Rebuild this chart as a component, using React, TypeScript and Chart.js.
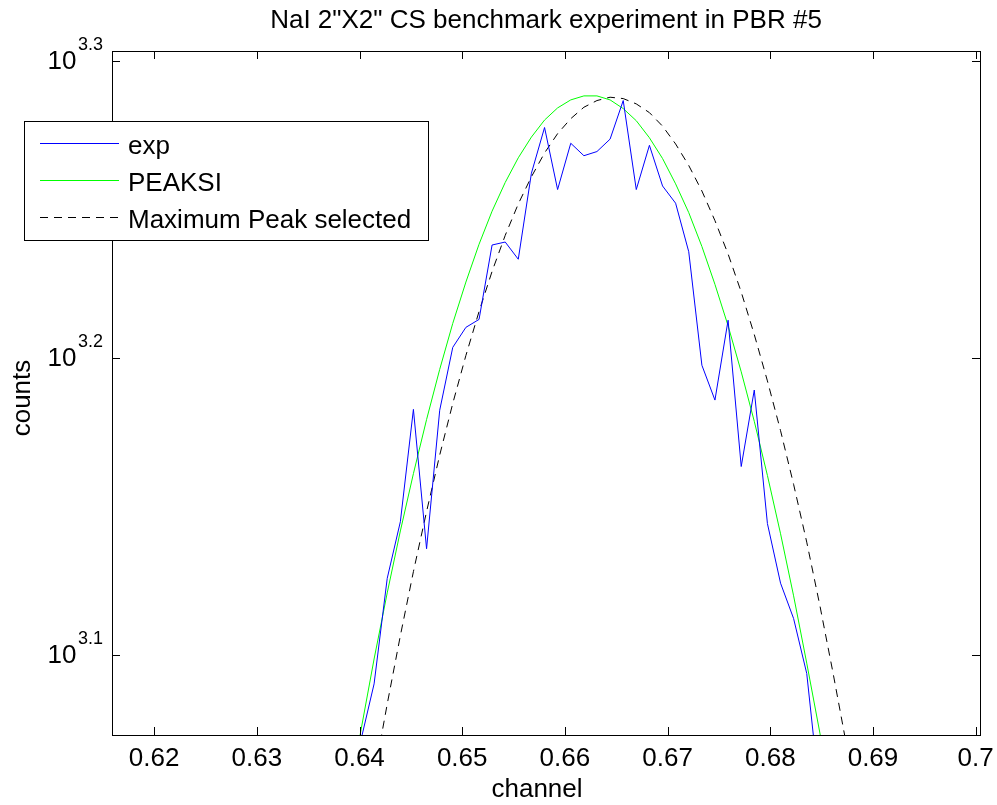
import React, { useEffect, useRef } from 'react';
import { Chart, registerables } from 'chart.js';

Chart.register(...registerables);

// ---------- data ----------
const channel = [
  0.63887, 0.64015, 0.64142, 0.6427, 0.64398, 0.64525, 0.64653, 0.64781, 0.64908, 0.65036,
  0.65164, 0.65291, 0.65419, 0.65546, 0.65674, 0.65802, 0.65929, 0.66057, 0.66185, 0.66312,
  0.6644, 0.66568, 0.66695, 0.66823, 0.66951, 0.67078, 0.67206, 0.67334, 0.67461, 0.67589,
  0.67717, 0.67844, 0.67972, 0.681, 0.68227, 0.68355, 0.68483, 0.6861, 0.68738,
];

const expCounts = [
  null, 1179, 1231, 1336, 1396, 1523, 1367, 1522, 1598, 1623,
  1633, 1730, 1734, 1711, 1829, 1895, 1806, 1872, 1854, 1860,
  1878, 1935, 1806, 1869, 1811, 1787, 1721, 1576, 1534, 1632,
  1457, 1546, 1394, 1331, 1295, 1241, 1128, null, null,
];

const peaksiCounts = [
  1121, 1188, 1255, 1321, 1386, 1449, 1511, 1571, 1628, 1681,
  1731, 1776, 1816, 1851, 1881, 1906, 1924, 1936, 1942, 1942,
  1936, 1923, 1905, 1880, 1850, 1814, 1774, 1728, 1678, 1625,
  1568, 1509, 1447, 1383, 1318, 1251, 1185, 1117, null,
];

const maxPeakCounts = [
  null, 1080, 1146, 1212, 1278, 1343, 1407, 1470, 1530, 1588,
  1643, 1695, 1743, 1786, 1824, 1858, 1886, 1908, 1925, 1935,
  1940, 1938, 1930, 1917, 1897, 1871, 1840, 1804, 1763, 1718,
  1668, 1614, 1557, 1498, 1437, 1374, 1308, 1242, 1176,
];

const seriesNames = ['exp', 'PEAKSI', 'Maximum Peak selected'];

const xTicks = [0.62, 0.63, 0.64, 0.65, 0.66, 0.67, 0.68, 0.69, 0.7];
const xTickLabels = ['0.62', '0.63', '0.64', '0.65', '0.66', '0.67', '0.68', '0.69', '0.7'];
const yTickExps = [3.1, 3.2, 3.3];
const yTickLabels = ['3.1', '3.2', '3.3'];

const titleText = 'NaI 2"X2" CS benchmark experiment in PBR #5';
const xLabelText = 'channel';
const yLabelText = 'counts';

const X_MIN = 0.6159;
const X_MAX = 0.70042;
const Y_MIN = 1183.2;
const Y_MAX = 2010.8;

const FONT = '"Liberation Sans", Arial, Helvetica, sans-serif';
const DASH = [8, 6];

const toPoints = (vals: (number | null)[]) =>
  channel.map((c, i) => ({ x: c, y: vals[i] }));

const matlabPlugin = {
  id: 'matlabDecor',
  afterDraw(chart: any) {
    const ctx = chart.ctx as CanvasRenderingContext2D;
    const { left, right, top, bottom } = chart.chartArea;
    const xs = chart.scales.x;
    const ys = chart.scales.y;
    ctx.save();
    ctx.strokeStyle = '#000';
    ctx.fillStyle = '#000';
    ctx.lineWidth = 1;
    ctx.setLineDash([]);

    // frame
    ctx.strokeRect(left + 0.5, top + 0.5, right - left, bottom - top);

    const T = 8;
    // x ticks
    ctx.beginPath();
    xTicks.forEach((v) => {
      const px = Math.round(xs.getPixelForValue(v)) + 0.5;
      ctx.moveTo(px, bottom);
      ctx.lineTo(px, bottom - T);
      ctx.moveTo(px, top);
      ctx.lineTo(px, top + T);
    });
    // y ticks
    yTickExps.forEach((e) => {
      const py = Math.round(ys.getPixelForValue(Math.pow(10, e))) + 0.5;
      ctx.moveTo(left, py);
      ctx.lineTo(left + T, py);
      ctx.moveTo(right, py);
      ctx.lineTo(right - T, py);
    });
    ctx.stroke();

    // x tick labels
    ctx.font = `26px ${FONT}`;
    ctx.textAlign = 'center';
    ctx.textBaseline = 'alphabetic';
    xTicks.forEach((v, i) => {
      const px = xs.getPixelForValue(v);
      ctx.fillText(xTickLabels[i], px, 766);
    });

    // y tick labels 10^e
    ctx.textAlign = 'left';
    yTickExps.forEach((e, i) => {
      const py = ys.getPixelForValue(Math.pow(10, e));
      ctx.font = `26px ${FONT}`;
      const x0 = 47.5;
      ctx.fillText('10', x0, py + 8);
      const w10 = ctx.measureText('10').width;
      ctx.font = `18px ${FONT}`;
      ctx.fillText(yTickLabels[i], x0 + w10 + 1.5, py - 11);
    });

    // title
    ctx.font = `26px ${FONT}`;
    ctx.textAlign = 'center';
    ctx.fillText(titleText, 546, 28);

    // x label
    ctx.fillText(xLabelText, 537, 797);

    // y label
    ctx.save();
    ctx.translate(30, 398);
    ctx.rotate(-Math.PI / 2);
    ctx.fillText(yLabelText, 0, 0);
    ctx.restore();

    // legend
    const lx0 = 24.5, ly0 = 121.5, lx1 = 428.5, ly1 = 240.5;
    ctx.fillStyle = '#fff';
    ctx.fillRect(lx0, ly0, lx1 - lx0, ly1 - ly0);
    ctx.strokeStyle = '#000';
    ctx.strokeRect(lx0, ly0, lx1 - lx0, ly1 - ly0);
    const rows = [143.5, 180.5, 217.5];
    const colors = ['#0000ff', '#00ff00', '#000000'];
    rows.forEach((ry, i) => {
      ctx.beginPath();
      ctx.strokeStyle = colors[i];
      ctx.setLineDash(i === 2 ? DASH : []);
      ctx.moveTo(40, ry);
      ctx.lineTo(119, ry);
      ctx.stroke();
      ctx.setLineDash([]);
      ctx.fillStyle = '#000';
      ctx.textAlign = 'left';
      ctx.font = `26px ${FONT}`;
      ctx.fillText(seriesNames[i], 128, ry + 10);
    });

    ctx.restore();
  },
};

export default function App() {
  const ref = useRef<HTMLCanvasElement | null>(null);

  useEffect(() => {
    document.body.style.margin = '0';
    const canvas = ref.current;
    if (!canvas) return;
    const chart = new Chart(canvas, {
      type: 'line',
      data: {
        datasets: [
          {
            label: seriesNames[0],
            data: toPoints(expCounts) as any,
            borderColor: '#0000ff',
            borderWidth: 1,
            pointRadius: 0,
            tension: 0,
            fill: false,
          },
          {
            label: seriesNames[1],
            data: toPoints(peaksiCounts) as any,
            borderColor: '#00ff00',
            borderWidth: 1,
            pointRadius: 0,
            tension: 0,
            fill: false,
          },
          {
            label: seriesNames[2],
            data: toPoints(maxPeakCounts) as any,
            borderColor: '#000000',
            borderWidth: 1,
            borderDash: DASH,
            pointRadius: 0,
            tension: 0,
            fill: false,
          },
        ],
      },
      options: {
        animation: false,
        responsive: false,
        maintainAspectRatio: false,
        devicePixelRatio: 1,
        layout: { padding: { left: 112, top: 51, right: 17, bottom: 70 } },
        scales: {
          x: { type: 'linear', min: X_MIN, max: X_MAX, display: false },
          y: { type: 'logarithmic', min: Y_MIN, max: Y_MAX, display: false },
        },
        plugins: {
          legend: { display: false },
          tooltip: { enabled: false },
          title: { display: false },
        },
      },
      plugins: [matlabPlugin],
    });
    return () => chart.destroy();
  }, []);

  return (
    <div style={{ width: 997, height: 805, background: '#fff' }}>
      <canvas ref={ref} width={997} height={805} style={{ display: 'block' }} />
    </div>
  );
}
